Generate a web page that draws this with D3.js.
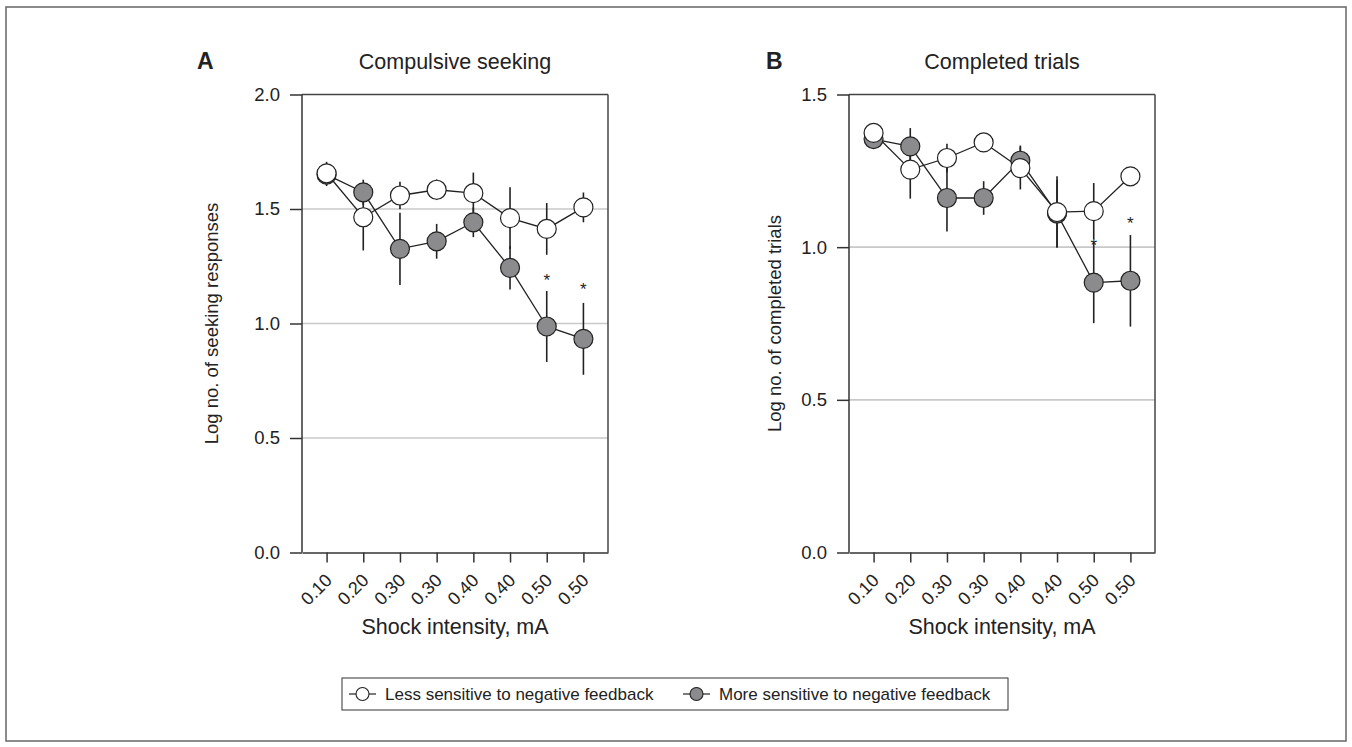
<!DOCTYPE html>
<html><head><meta charset="utf-8">
<script src="https://cdn.jsdelivr.net/npm/d3@7/dist/d3.min.js"></script>
<style>
body{margin:0;background:#fff}
text{font-family:"Liberation Sans",Arial,Helvetica,sans-serif;fill:#222}
</style>
</head><body>
<svg id="chart" width="1352" height="747"></svg>
<script>
// ---- data ----
const shockLabels = ["0.10","0.20","0.30","0.30","0.40","0.40","0.50","0.50"];
const seriesNames = ["Less sensitive to negative feedback","More sensitive to negative feedback"];

const seekingLess    = [1.656, 1.464, 1.559, 1.584, 1.569, 1.460, 1.413, 1.507];
const seekingLessErr = [0.050, 0.145, 0.060, 0.045, 0.090, 0.135, 0.113, 0.065];
const seekingMore    = [1.650, 1.573, 1.326, 1.359, 1.442, 1.243, 0.987, 0.933];
const seekingMoreErr = [0.050, 0.055, 0.158, 0.076, 0.065, 0.095, 0.155, 0.157];
const seekingStars   = [null, null, null, null, null, null, 1.205, 1.166];

const trialsLess     = [1.374, 1.254, 1.292, 1.343, 1.259, 1.115, 1.118, 1.232];
const trialsLessErr  = [0.020, 0.095, 0.047, 0.020, 0.070, 0.117, 0.092, 0.030];
const trialsMore     = [1.354, 1.330, 1.161, 1.161, 1.283, 1.110, 0.884, 0.890];
const trialsMoreErr  = [0.020, 0.060, 0.110, 0.055, 0.050, 0.110, 0.133, 0.150];
const trialsStars    = [null, null, null, null, null, null, 1.018, 1.090];

const seekingTicks = [0, 0.5, 1.0, 1.5, 2.0];
const trialsTicks  = [0, 0.5, 1.0, 1.5];

// ---- layout ----
const svg = d3.select("#chart");
const TOP = 94.5, BOTTOM = 552.5;
const GRAY = "#8b8b8d", INK = "#222";

svg.append("rect").attr("x",6).attr("y",7).attr("width",1340).attr("height",734)
  .attr("fill","none").attr("stroke","#666").attr("stroke-width",1.5);

const panels = [
  {letter:"A", title:"Compulsive seeking", ylabel:"Log no. of seeking responses",
   ticks:seekingTicks, less:seekingLess, lessErr:seekingLessErr, more:seekingMore, moreErr:seekingMoreErr,
   stars:seekingStars, left:302, right:608, labelX:218, letterX:197},
  {letter:"B", title:"Completed trials", ylabel:"Log no. of completed trials",
   ticks:trialsTicks, less:trialsLess, lessErr:trialsLessErr, more:trialsMore, moreErr:trialsMoreErr,
   stars:trialsStars, left:849, right:1155, labelX:781, letterX:766}
];

panels.forEach(p => {
  const g = svg.append("g");
  const x = d3.scalePoint().domain(d3.range(shockLabels.length)).range([p.left, p.right]).padding(0.67);
  const yMax = d3.max(p.ticks);
  const y = d3.scaleLinear().domain([0, yMax]).range([BOTTOM, TOP]);

  // gridlines
  g.selectAll("line.grid").data(p.ticks.filter(v => v > 0 && v < yMax)).join("line")
    .attr("class","grid").attr("x1",p.left).attr("x2",p.right)
    .attr("y1",d=>y(d)).attr("y2",d=>y(d)).attr("stroke","#c9c9c9").attr("stroke-width",1.6);

  // frame top & right
  g.append("line").attr("x1",p.left).attr("x2",p.right).attr("y1",TOP).attr("y2",TOP)
    .attr("stroke","#444").attr("stroke-width",1.5);
  g.append("line").attr("x1",p.right).attr("x2",p.right).attr("y1",TOP).attr("y2",BOTTOM)
    .attr("stroke","#444").attr("stroke-width",1.5);

  // y axis
  const ya = g.append("g").attr("transform",`translate(${p.left},0)`)
    .call(d3.axisLeft(y).tickValues(p.ticks).tickFormat(d3.format(".1f")).tickSize(12).tickSizeOuter(0).tickPadding(10));
  // x axis
  const xa = g.append("g").attr("transform",`translate(0,${BOTTOM})`)
    .call(d3.axisBottom(x).tickFormat(i => shockLabels[i]).tickSize(10).tickSizeOuter(0));
  [ya, xa].forEach(a => {
    a.select(".domain").attr("stroke","#333").attr("stroke-width",1.5);
    a.selectAll(".tick line").attr("stroke","#333").attr("stroke-width",1.5);
    a.selectAll(".tick text").attr("fill",INK).style("font-size","18.5px").attr("font-family",null);
  });
  ya.select(".domain").attr("d",`M0,${BOTTOM}V${TOP}`);
  xa.selectAll(".tick text").attr("x",null).attr("y",null).attr("dy",null)
    .attr("text-anchor","end").attr("transform","translate(6,29) rotate(-45)").style("font-size","18px");

  // error bars
  const errs = [[p.more,p.moreErr],[p.less,p.lessErr]];
  errs.forEach(([v,e]) => {
    g.selectAll(null).data(v).join("line")
      .attr("x1",(d,i)=>x(i)).attr("x2",(d,i)=>x(i))
      .attr("y1",(d,i)=>y(d - e[i])).attr("y2",(d,i)=>y(d + e[i]))
      .attr("stroke",INK).attr("stroke-width",1.6);
  });
  // lines
  const line = d3.line().x((d,i)=>x(i)).y(d=>y(d));
  [p.more, p.less].forEach(v => {
    g.append("path").datum(v).attr("d",line).attr("fill","none").attr("stroke",INK).attr("stroke-width",1.3);
  });
  // circles
  g.selectAll(null).data(p.more).join("circle").attr("cx",(d,i)=>x(i)).attr("cy",d=>y(d)).attr("r",9.5)
    .attr("fill",GRAY).attr("stroke",INK).attr("stroke-width",1.2);
  g.selectAll(null).data(p.less).join("circle").attr("cx",(d,i)=>x(i)).attr("cy",d=>y(d)).attr("r",9.5)
    .attr("fill","#fff").attr("stroke",INK).attr("stroke-width",1.2);
  // stars
  g.selectAll(null).data(p.stars.map((s,i)=>({s,i})).filter(d=>d.s!=null)).join("text")
    .attr("x",d=>x(d.i)).attr("y",d=>y(d.s)).attr("dy","0.55em").attr("text-anchor","middle")
    .style("font-size","17px").text("*");

  // titles
  const cx = (p.left + p.right)/2;
  g.append("text").attr("x",cx).attr("y",69).attr("text-anchor","middle").style("font-size","21.5px").text(p.title);
  g.append("text").attr("x",p.letterX).attr("y",69).style("font-size","23px").style("font-weight","bold").text(p.letter);
  g.append("text").attr("x",cx).attr("y",634).attr("text-anchor","middle").style("font-size","21.5px").text("Shock intensity, mA");
  g.append("text").attr("transform",`translate(${p.labelX},${(TOP+BOTTOM)/2}) rotate(-90)`)
    .attr("text-anchor","middle").style("font-size","18.5px").text(p.ylabel);
});

// legend
const lg = svg.append("g");
lg.append("rect").attr("x",342).attr("y",678).attr("width",666).attr("height",32)
  .attr("fill","#fff").attr("stroke","#333").attr("stroke-width",1);
const legendX = [349, 683];
seriesNames.forEach((name, k) => {
  const x0 = legendX[k], yc = 694;
  lg.append("line").attr("x1",x0).attr("x2",x0+27).attr("y1",yc).attr("y2",yc).attr("stroke",INK).attr("stroke-width",1.2);
  lg.append("circle").attr("cx",x0+13.5).attr("cy",yc).attr("r",6.5)
    .attr("fill",k===0?"#fff":GRAY).attr("stroke",INK).attr("stroke-width",1.1);
  lg.append("text").attr("x",x0+36).attr("y",yc+6).style("font-size","17px").text(name);
});
</script>
</body></html>
